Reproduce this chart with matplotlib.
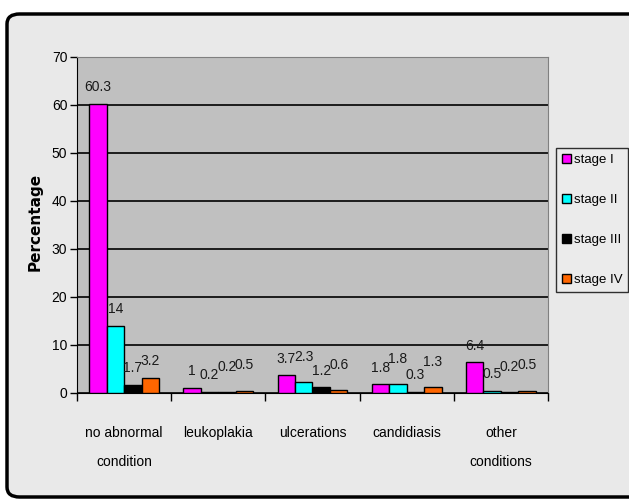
import matplotlib
matplotlib.use('Agg')
import matplotlib.pyplot as plt
from matplotlib.patches import FancyBboxPatch, Patch
import numpy as np

plt.rcParams['font.family'] = ['Liberation Sans', 'DejaVu Sans']

# data
categories = ['no abnormal\ncondition', 'leukoplakia', 'ulcerations', 'candidiasis', 'other\nconditions']
series_names = ['stage I', 'stage II', 'stage III', 'stage IV']
stage1 = [60.3, 1, 3.7, 1.8, 6.4]
stage2 = [14, 0.2, 2.3, 1.8, 0.5]
stage3 = [1.7, 0.2, 1.2, 0.3, 0.2]
stage4 = [3.2, 0.5, 0.6, 1.3, 0.5]
colors = ['#ff00ff', '#00ffff', '#000000', '#ff6600']

fig = plt.figure(figsize=(6.29, 5.0), dpi=100)
fig.patch.set_facecolor('white')

# outer rounded frame with light background
frame = FancyBboxPatch((7 / 629, 3 / 500), 640 / 629, 483 / 500,
                       boxstyle='round,pad=0,rounding_size=0.02',
                       transform=fig.transFigure, facecolor='#e9e9e9',
                       edgecolor='black', linewidth=2.5, zorder=-5)
fig.patches.append(frame)

ax = fig.add_axes([77 / 629, 107 / 500, 471 / 629, 336 / 500])
ax.set_zorder(2)
ax.set_facecolor('#c0c0c0')

x = np.arange(len(categories))
w = 0.185
all_series = [stage1, stage2, stage3, stage4]
labels = []
for i, vals in enumerate(all_series):
    pos = x - 1.5 * w + i * w
    bars = ax.bar(pos, vals, width=w, color=colors[i], edgecolor='black',
                  linewidth=1, zorder=3)
    row = []
    for b, v in zip(bars, vals):
        t = ax.annotate(f'{v:g}', (b.get_x() + b.get_width() / 2, v),
                        xytext=(0, 7), textcoords='offset points',
                        ha='center', va='bottom', fontsize=10, color='#1a1a1a')
        row.append(t)
    labels.append(row)

ax.set_xlim(-0.5, len(categories) - 0.5)
ax.set_ylim(0, 70)
ax.set_yticks(range(0, 71, 10))
ax.yaxis.grid(True, color='black', linewidth=1.2, zorder=1)
ax.set_axisbelow(True)
ax.set_xticks(x)
ax.set_xticklabels(categories, fontsize=10, linespacing=2.3)
ax.tick_params(axis='x', length=0, pad=24)
ax.set_xticks(np.arange(-0.5, len(categories), 1), minor=True)
ax.tick_params(axis='x', which='minor', length=6, width=1, color='black')
ax.tick_params(axis='y', labelsize=10, length=5, width=1, pad=2)

for side in ['top', 'right']:
    ax.spines[side].set_color('#808080')
ax.spines['left'].set_color('black')
ax.spines['bottom'].set_color('black')

fig.text(35 / 629, 1 - 222 / 500, 'Percentage', rotation=90, ha='center',
         va='center', fontsize=11, fontweight='bold', family='DejaVu Sans')

handles = [Patch(facecolor=c, edgecolor='black') for c in colors]
leg = fig.legend(handles, series_names, loc='upper left',
                 bbox_to_anchor=(556 / 629, 1 - 148 / 500), fontsize=9.5,
                 frameon=True, fancybox=False, handlelength=0.7,
                 handleheight=0.7, handletextpad=0.2, labelspacing=2.1,
                 borderpad=0.45, borderaxespad=0)
leg.get_frame().set_edgecolor('black')
leg.get_frame().set_facecolor('#ececec')
leg.get_frame().set_linewidth(1)

# nudge data labels in a group up a little when they run into the previous one
fig.canvas.draw()
r = fig.canvas.get_renderer()
for g in range(len(categories)):
    prev = None
    for i in range(len(all_series)):
        t = labels[i][g]
        bb = t.get_window_extent(r)
        if prev is not None and bb.x0 < prev.x1 - 1 and abs(bb.y0 - prev.y0) < bb.height * 0.5:
            shift = 0.6 * bb.height * 72 / fig.dpi
            t.set_position((0, 7 + shift))
            bb = t.get_window_extent(r)
        prev = bb

fig.savefig('out.png', dpi=100)
